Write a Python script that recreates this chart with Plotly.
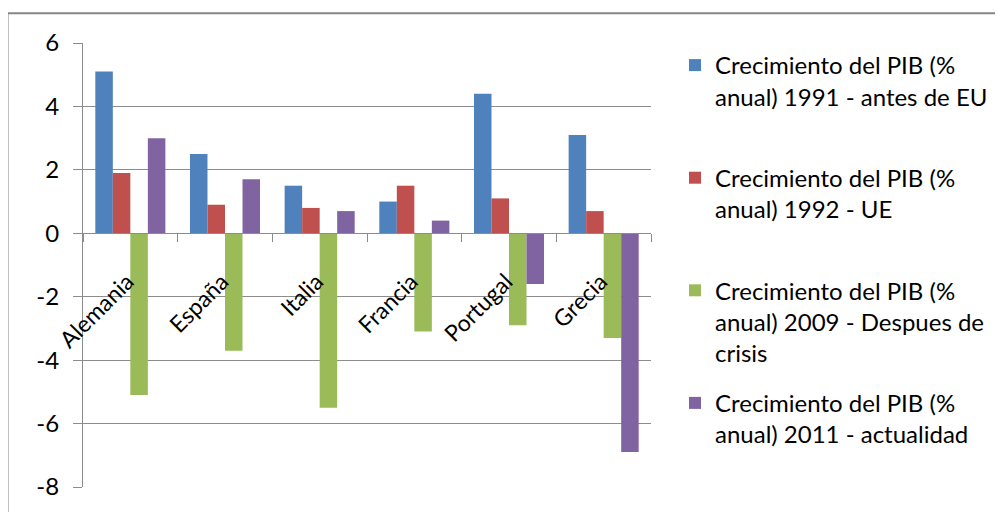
import plotly.graph_objects as go

countries = ["Alemania", "España", "Italia", "Francia", "Portugal", "Grecia"]
series_names = [
    "Crecimiento del PIB (%<br>anual) 1991 - antes de EU<br> ",
    "Crecimiento del PIB (%<br>anual) 1992 - UE<br> ",
    "Crecimiento del PIB (%<br>anual) 2009 - Despues de<br>crisis",
    "Crecimiento del PIB (%<br>anual) 2011 - actualidad",
]
pib_1991 = [5.1, 2.5, 1.5, 1.0, 4.4, 3.1]
pib_1992 = [1.9, 0.9, 0.8, 1.5, 1.1, 0.7]
pib_2009 = [-5.1, -3.7, -5.5, -3.1, -2.9, -3.3]
pib_2011 = [3.0, 1.7, 0.7, 0.4, -1.6, -6.9]
colors = ["#4F81BD", "#C0504D", "#9BBB59", "#8064A2"]
y_ticks = [-8, -6, -4, -2, 0, 2, 4, 6]
y_ticktext = ["-8", "-6", "-4", "-2", "0", "2", "4", "6"]

FONT = "Lato"
FS = 24
GRID = "#8C8C8C"

fig = go.Figure()
for i, (name, vals) in enumerate(zip(series_names, [pib_1991, pib_1992, pib_2009, pib_2011])):
    fig.add_trace(go.Bar(
        x=countries, y=vals, name=name, marker_color=colors[i],
        marker_line_width=0, legendgroup=f"g{i}",
    ))

OFF = 8  # page body margin
L, T = 83 - OFF, 42.7 - OFF
R, B = 651 - OFF, 486.7 - OFF
W, H = 1003 - OFF, 512 - OFF
pw, ph = R - L, B - T

fig.update_layout(
    width=W, height=H,
    margin=dict(l=L, r=W - R, t=T, b=H - B, autoexpand=False),
    paper_bgcolor="white", plot_bgcolor="white",
    barmode="group", bargap=0.26, bargroupgap=0,
    font=dict(family=FONT, size=FS, color="black"),
    legend=dict(
        x=(675 - OFF - L) / pw, xanchor="left",
        y=1.0, yanchor="top",
        valign="top",
        traceorder="grouped", tracegroupgap=16,
        font=dict(family=FONT, size=FS, color="black"),
        bgcolor="rgba(0,0,0,0)",
    ),
    xaxis=dict(
        anchor="free", position=8 / 14,
        showline=True, linecolor=GRID, linewidth=1,
        ticks="outside", tickson="boundaries", ticklen=8, tickcolor=GRID,
        tickangle=-45, ticklabelstandoff=25, ticklabelshift=-3,
        showgrid=False, zeroline=False,
        tickfont=dict(family=FONT, size=23, color="black"),
    ),
    yaxis=dict(
        range=[-8, 6], tickvals=y_ticks, ticktext=y_ticktext,
        showline=True, linecolor=GRID, linewidth=1,
        ticks="outside", ticklen=9, tickcolor=GRID,
        ticklabelstandoff=9,
        showgrid=True, gridcolor=GRID, gridwidth=1,
        zeroline=False,
        tickfont=dict(family=FONT, size=FS, color="black"),
    ),
    shapes=[dict(
        type="rect", xref="paper", yref="paper",
        x0=(7.5 - OFF - L) / pw, x1=(W + 20 - L) / pw,
        y0=(B - (H + 20)) / ph, y1=(B - (13 - OFF)) / ph,
        line=dict(color="#868686", width=2), fillcolor="rgba(0,0,0,0)",
        layer="below",
    )],
)

fig.write_html("out.html")
